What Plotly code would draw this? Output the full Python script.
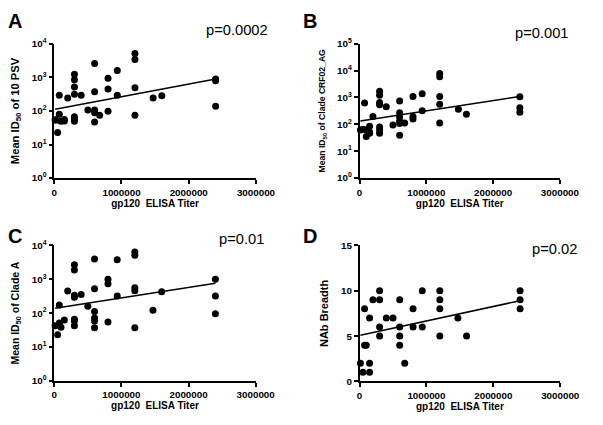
import plotly.graph_objects as go

# ---------------- data ----------------
xA = [12500, 25000, 50000, 75000, 75000, 100000, 150000, 150000, 200000,
      300000, 300000, 300000, 300000, 300000, 300000, 300000, 400000, 500000,
      600000, 600000, 600000, 600000, 600000, 675000, 800000, 800000, 800000,
      937500, 937500, 1200000, 1200000, 1200000, 1200000, 1470000, 1600000,
      2400000, 2400000, 2400000]
yA = [55, 53, 23, 296, 80, 49, 56, 50, 245,
      1240, 850, 520, 316, 67, 57, 49, 296, 107,
      2630, 372, 107, 89, 47, 75, 950, 455, 98,
      1620, 296, 5200, 3450, 490, 75, 245, 284,
      800, 900, 139]

xB = [12500, 50000, 75000, 75000, 100000, 150000, 150000, 150000, 200000,
      300000, 300000, 300000, 300000, 300000, 300000, 300000, 400000, 500000,
      600000, 600000, 600000, 600000, 600000, 600000, 675000, 800000, 800000,
      800000, 937500, 937500, 1200000, 1200000, 1200000, 1200000, 1200000,
      1480000, 1600000, 2400000, 2400000, 2400000]
yB = [61, 64, 625, 63, 35, 85, 46, 52, 195,
      1700, 1210, 645, 530, 80, 61, 46, 445, 95,
      740, 270, 185, 132, 106, 39, 112, 1090, 195,
      156, 1360, 320, 7800, 5900, 1090, 560, 112,
      360, 237, 1060, 410, 280]

xC = [12500, 50000, 75000, 75000, 75000, 100000, 150000, 200000,
      300000, 300000, 300000, 300000, 300000, 300000, 300000, 400000, 500000,
      600000, 600000, 600000, 600000, 600000, 600000, 800000, 800000, 800000,
      937500, 937500, 1200000, 1200000, 1200000, 1200000, 1200000, 1470000,
      1600000, 2400000, 2400000, 2400000]
yC = [42, 23, 173, 51, 45, 38, 63, 447,
      2680, 1870, 335, 295, 66, 58, 42, 354, 158,
      3990, 520, 112, 72, 58, 37, 1000, 740, 55,
      3780, 322, 6400, 5100, 565, 457, 37, 122,
      428, 1000, 322, 96]

xD = [12500, 50000, 75000, 75000, 100000, 150000, 150000, 150000, 200000,
      300000, 300000, 300000, 300000, 400000, 500000, 600000, 600000, 600000,
      600000, 675000, 800000, 800000, 937500, 937500, 1200000, 1200000,
      1200000, 1200000, 1470000, 1600000, 2400000, 2400000, 2400000]
yD = [2, 1, 4, 8, 4, 7, 2, 1, 9,
      10, 9, 6, 5, 7, 7, 9, 6, 5,
      4, 2, 8, 6, 10, 6, 10, 9,
      8, 5, 7, 5, 10, 9, 8]

fit_x = [12500, 2400000]
fitA_y = [112, 900]
fitB_y = [132, 1080]
fitC_y = [139, 760]
fitD_y = [5.1, 8.9]

x_ticks = [0, 1000000, 2000000, 3000000]
x_ticktext = ["0", "1000000", "2000000", "3000000"]
log_ticks4 = [1, 10, 100, 1000, 10000]
log_ticks5 = [1, 10, 100, 1000, 10000, 100000]
lin_ticks = [0, 5, 10, 15]

panel_letters = ["A", "B", "C", "D"]
p_values = ["p=0.0002", "p=0.001", "p=0.01", "p=0.02"]
y_titles = ["Mean ID<sub>50</sub> of 10 PSV",
            "Mean ID<sub>50</sub> of Clade CRF02_AG",
            "Mean ID<sub>50</sub> of Clade A",
            "NAb Breadth"]
x_title = "gp120\u00a0 ELISA Titer"

# ---------------- layout ----------------
W, H = 603, 425
FONT = "Liberation Sans, Arial, sans-serif"

def px_x(p):
    return p / W

def px_y(p):
    return 1 - p / H

panels = [
    dict(x=xA, y=yA, fy=fitA_y, xd=[53.3, 263.0], yd=[176.0, 38.0], log=True,
         rng=[0, 4], tv=log_ticks4, ts=11.2),
    dict(x=xB, y=yB, fy=fitB_y, xd=[370.7, 579.0], yd=[176.0, 37.7], log=True,
         rng=[0, 5], tv=log_ticks5, ts=8.6),
    dict(x=xC, y=yC, fy=fitC_y, xd=[53.3, 262.7], yd=[384.7, 245.3], log=True,
         rng=[0, 4], tv=log_ticks4, ts=10.5),
    dict(x=xD, y=yD, fy=fitD_y, xd=[370.7, 579.3], yd=[385.3, 245.3], log=False,
         rng=[0, 15], tv=lin_ticks, ts=11),
]

fig = go.Figure()
layout = dict(
    width=W, height=H, margin=dict(l=0, r=0, t=0, b=0),
    paper_bgcolor="white", plot_bgcolor="white", showlegend=False,
    font=dict(family=FONT, color="black"),
)
annotations = []

for i, p in enumerate(panels):
    n = "" if i == 0 else str(i + 1)
    xa, ya = "x" + n, "y" + n
    fig.add_trace(go.Scatter(x=p["x"], y=p["y"], mode="markers", xaxis=xa, yaxis=ya,
                             marker=dict(color="black", size=7), cliponaxis=False))
    fig.add_trace(go.Scatter(x=fit_x, y=p["fy"], mode="lines", xaxis=xa, yaxis=ya,
                             line=dict(color="black", width=1.5), cliponaxis=False))
    layout["xaxis" + n] = dict(
        domain=[px_x(p["xd"][0]), px_x(p["xd"][1])], anchor=ya,
        range=[0, 3000000], tickvals=x_ticks, ticktext=x_ticktext,
        showline=True, linecolor="black", linewidth=1.5, ticks="outside",
        ticklen=4, tickwidth=1.5, tickcolor="black", showgrid=False, zeroline=False,
        tickfont=dict(size=9.8, weight="bold", family=FONT),
        title=dict(text=x_title, font=dict(size=10, weight="bold", family=FONT), standoff=1),
    )
    if p["log"]:
        tt = ["10<sup>%d</sup>" % k for k in range(len(p["tv"]))]
        yax = dict(type="log", range=p["rng"], tickvals=p["tv"], ticktext=tt)
    else:
        yax = dict(range=p["rng"], tickvals=p["tv"], ticktext=[str(v) for v in p["tv"]])
    yax.update(
        domain=[px_y(p["yd"][0]), px_y(p["yd"][1])], anchor=xa,
        showline=True, linecolor="black", linewidth=1.5, ticks="outside",
        ticklen=4, tickwidth=1.5, tickcolor="black", showgrid=False, zeroline=False,
        tickfont=dict(size=9.8, weight="bold", family=FONT),
        title=dict(text=y_titles[i], font=dict(size=p["ts"], weight="bold", family=FONT),
                   standoff=10),
    )
    layout["yaxis" + n] = yax

letter_pos = [(3, 14), (310, 14), (3, 236), (310, 236)]
for (lx, ly), t in zip(letter_pos, panel_letters):
    annotations.append(dict(text="<b>%s</b>" % t, x=px_x(lx), y=px_y(ly), xref="paper",
                            yref="paper", xanchor="left", yanchor="middle", showarrow=False,
                            font=dict(size=20, family=FONT, color="black")))

p_pos = [(278, 24), (591, 26.5), (273, 238.5), (599, 249.5)]
for (px_, py_), t in zip(p_pos, p_values):
    annotations.append(dict(text=t, x=px_x(px_), y=px_y(py_), xref="paper", yref="paper",
                            xanchor="right", yanchor="middle", showarrow=False,
                            font=dict(size=14.7, family=FONT, color="black")))

layout["annotations"] = annotations
fig.update_layout(**layout)
fig.write_html("out.html", config={"displayModeBar": False},
               post_script="document.body.style.margin='0';document.body.style.padding='0';"
                           "document.body.style.overflow='hidden';")
